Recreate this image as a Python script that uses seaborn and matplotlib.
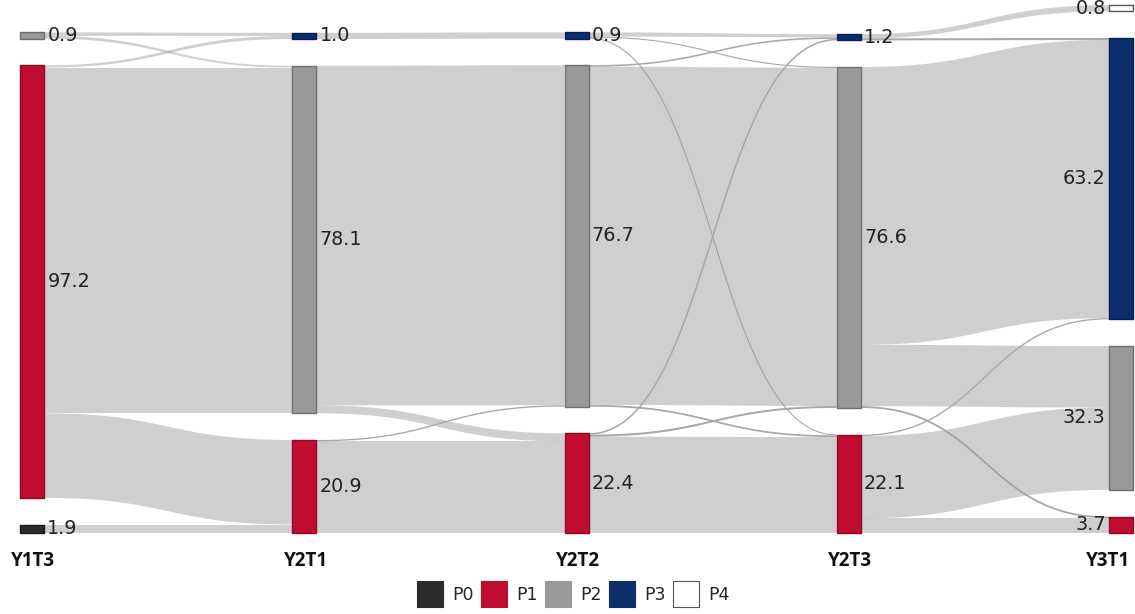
import numpy as np
import matplotlib
matplotlib.use("Agg")
import matplotlib.pyplot as plt
from matplotlib.patches import Patch
import seaborn as sns

# ---------------- data ----------------
stages = ["Y1T3", "Y2T1", "Y2T2", "Y2T3", "Y3T1"]
categories = ["P0", "P1", "P2", "P3", "P4"]
cat_colors = ["#2b2b2b", "#c00c30", "#999999", "#0b2d6b", "#ffffff"]
edge_colors = ["#1a1a1a", "#8e0a24", "#6f6f6f", "#071f4d", "#555555"]

y1t3_values = {"P0": 1.9, "P1": 97.2, "P2": 0.9}
y2t1_values = {"P1": 20.9, "P2": 78.1, "P3": 1.0}
y2t2_values = {"P1": 22.4, "P2": 76.7, "P3": 0.9}
y2t3_values = {"P1": 22.1, "P2": 76.6, "P3": 1.2}
y3t1_values = {"P1": 3.7, "P2": 32.3, "P3": 63.2, "P4": 0.8}

flows_y1t3_y2t1 = [("P2", "P3", 0.5), ("P2", "P2", 0.4), ("P1", "P3", 0.5),
                   ("P1", "P2", 77.7), ("P1", "P1", 19.0), ("P0", "P1", 1.9)]
flows_y2t1_y2t2 = [("P3", "P3", 0.9), ("P2", "P2", 76.4), ("P2", "P1", 1.8),
                   ("P1", "P2", 0.3), ("P1", "P1", 20.6)]
flows_y2t2_y2t3 = [("P3", "P3", 0.6), ("P3", "P2", 0.15), ("P3", "P1", 0.15),
                   ("P2", "P3", 0.3), ("P2", "P2", 76.0), ("P2", "P1", 0.4),
                   ("P1", "P3", 0.3), ("P1", "P2", 0.45), ("P1", "P1", 21.6)]
flows_y2t3_y3t1 = [("P3", "P4", 0.8), ("P3", "P3", 0.4), ("P2", "P3", 62.5),
                   ("P2", "P2", 13.8), ("P2", "P1", 0.4), ("P1", "P3", 0.3),
                   ("P1", "P2", 18.5), ("P1", "P1", 3.3)]

stage_values = [y1t3_values, y2t1_values, y2t2_values, y2t3_values, y3t1_values]
stage_flows = [flows_y1t3_y2t1, flows_y2t1_y2t2, flows_y2t2_y2t3, flows_y2t3_y3t1]

# ---------------- style ----------------
sns.set_theme(style="white")
plt.rcParams["font.family"] = ["DejaVu Sans"]

W, H, DPI = 1135, 614, 100
PX_PER_STAGE = 272.25
PX_PER_UNIT = 4.45
LEFT_PX = 32
BASE_PX = 533
GAP = 6.0
MINH = 1.4
NODE_W = 24 / PX_PER_STAGE

fig = plt.figure(figsize=(W / DPI, H / DPI), dpi=DPI)
ax = fig.add_axes([0, 0, 1, 1])
ax.set_xlim(-LEFT_PX / PX_PER_STAGE, (W - LEFT_PX) / PX_PER_STAGE)
ax.set_ylim(-(H - BASE_PX) / PX_PER_UNIT, BASE_PX / PX_PER_UNIT)
ax.axis("off")

# ---------------- layout ----------------
nodes = {}
for s, vals in enumerate(stage_values):
    y = 0.0
    for c in categories:
        if c in vals:
            h = max(vals[c], MINH)
            nodes[(s, c)] = (y, h)
            y += h + GAP

links = []
for s, flows in enumerate(stage_flows):
    out_pos, in_pos = {}, {}
    for c in categories:
        if (s, c) in nodes:
            outs = [f for f in flows if f[0] == c]
            outs.sort(key=lambda f: -nodes[(s + 1, f[1])][0])
            b, h = nodes[(s, c)]
            tot = sum(f[2] for f in outs)
            top = b + h
            for f in outs:
                t = f[2] * h / tot
                out_pos[(f[0], f[1])] = (top, top - t)
                top -= t
        if (s + 1, c) in nodes:
            ins = [f for f in flows if f[1] == c]
            ins.sort(key=lambda f: -nodes[(s, f[0])][0])
            b, h = nodes[(s + 1, c)]
            tot = sum(f[2] for f in ins)
            top = b + h
            for f in ins:
                t = f[2] * h / tot
                in_pos[(f[0], f[1])] = (top, top - t)
                top -= t
    for f in flows:
        links.append((s, out_pos[(f[0], f[1])], in_pos[(f[0], f[1])]))

tt = np.linspace(0, 1, 80)
ease = 3 * tt ** 2 - 2 * tt ** 3
for s, (s_top, s_bot), (t_top, t_bot) in links:
    x0 = s + NODE_W / 2
    x1 = s + 1 - NODE_W / 2
    xm = (x0 + x1) / 2
    xs = (1 - tt) ** 3 * x0 + 3 * (1 - tt) ** 2 * tt * xm + 3 * (1 - tt) * tt ** 2 * xm + tt ** 3 * x1
    ytop = s_top + (t_top - s_top) * ease
    ybot = s_bot + (t_bot - s_bot) * ease
    thick_px = max(s_top - s_bot, t_top - t_bot) * PX_PER_UNIT
    if thick_px < 2.2:
        ax.plot(xs, (ytop + ybot) / 2, color="#a8a8a8", lw=max(thick_px, 1.1) * 0.72,
                solid_capstyle="butt", zorder=1)
    else:
        ax.fill(np.concatenate([xs, xs[::-1]]), np.concatenate([ytop, ybot[::-1]]),
                facecolor="#9c9c9c", alpha=0.48, edgecolor="none", zorder=1)

# nodes
for (s, c), (b, h) in nodes.items():
    ci = categories.index(c)
    ax.bar(s, h, bottom=b, width=NODE_W, color=cat_colors[ci],
           edgecolor=edge_colors[ci], linewidth=1.0, zorder=3)
    val = stage_values[s][c]
    yc = b + h / 2
    if s < len(stages) - 1:
        ax.text(s + NODE_W / 2 + 0.012, yc, f"{val:.1f}", ha="left", va="center",
                fontsize=13.8, color="#222222", zorder=4)
    else:
        ax.text(s - NODE_W / 2 - 0.012, yc, f"{val:.1f}", ha="right", va="center",
                fontsize=13.8, color="#222222", zorder=4)

# stage labels
label_y = (BASE_PX - 561) / PX_PER_UNIT
for s, name in enumerate(stages):
    if s == len(stages) - 1:
        ax.text(s + NODE_W / 2 - 0.01, label_y, name, ha="right", va="center",
                fontsize=13.5, fontweight="bold", family="Open Sans", color="#111111")
    else:
        ax.text(s + 0.005, label_y, name, ha="center", va="center",
                fontsize=13.5, fontweight="bold", family="Open Sans", color="#111111")

# legend
handles = [Patch(facecolor=cat_colors[i], edgecolor=edge_colors[i] if i == 4 else cat_colors[i],
                 linewidth=0.8) for i in range(len(categories))]
fig.legend(handles, categories, loc="lower center", bbox_to_anchor=(0.505, -0.014), ncol=5,
           frameon=False, fontsize=12.5, handlelength=1.5, handleheight=1.9,
           handletextpad=0.5, columnspacing=0.45)

fig.savefig("out.png", dpi=DPI)
